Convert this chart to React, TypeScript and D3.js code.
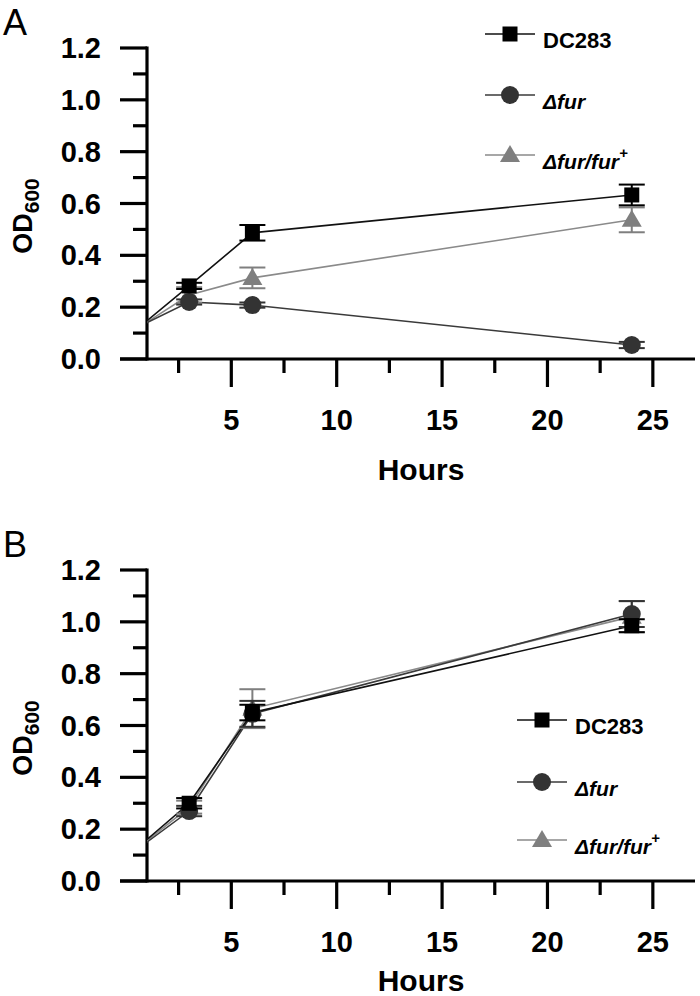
import React from "react";
import * as d3 from "d3";

const hours = [0, 3, 6, 24];
const xMajorTicks = [5, 10, 15, 20, 25];
const xMinorTicks = [2.5, 7.5, 12.5, 17.5, 22.5];
const yMajorTicks = [0, 0.2, 0.4, 0.6, 0.8, 1.0, 1.2];
const yMinorTicks = [0.1, 0.3, 0.5, 0.7, 0.9, 1.1];

const seriesNames = ["DC283", "Δfur", "Δfur/fur+"];

const aDC283 = [0.08, 0.282, 0.487, 0.633];
const aDC283Err = [0, 0.012, 0.03, 0.04];
const aFur = [0.1, 0.22, 0.208, 0.054];
const aFurErr = [0, 0.01, 0.01, 0.012];
const aFurComp = [0.09, 0.247, 0.313, 0.537];
const aFurCompErr = [0, 0.03, 0.04, 0.048];

const bDC283 = [0.09, 0.3, 0.65, 0.985];
const bDC283Err = [0, 0.02, 0.03, 0.025];
const bFur = [0.09, 0.27, 0.645, 1.03];
const bFurErr = [0, 0.02, 0.05, 0.05];
const bFurComp = [0.09, 0.285, 0.665, 1.02];
const bFurCompErr = [0, 0.025, 0.075, 0.06];

const FONT = "'Liberation Sans', Arial, sans-serif";
const colors = ["#000000", "#333333", "#7f7f7f"];
const lineColors = ["#111111", "#3a3a3a", "#8a8a8a"];

type Series = { vals: number[]; errs: number[] };

function Marker({ kind, cx, cy, color }: { kind: number; cx: number; cy: number; color: string }) {
  if (kind === 0) return <rect x={cx - 7.5} y={cy - 7.5} width={15} height={15} fill={color} />;
  if (kind === 1) return <circle cx={cx} cy={cy} r={9} fill={color} />;
  return <path d={`M${cx},${cy - 10}L${cx + 10},${cy + 7}L${cx - 10},${cy + 7}Z`} fill={color} />;
}

function Panel({
  label,
  top,
  series,
  legendX,
  legendYs,
  hoursBaseline,
  id,
}: {
  label: string;
  top: number;
  series: Series[];
  legendX: number;
  legendYs: number[];
  hoursBaseline: number;
  id: string;
}) {
  const x = d3.scaleLinear().domain([1, 27]).range([147, 695]);
  const y = d3.scaleLinear().domain([0, 1.2]).range([top + 311, top]);
  const y0 = y(0);
  const line = d3
    .line<number>()
    .x((_, i) => x(hours[i]))
    .y((d) => y(d));
  const order = [2, 1, 0];
  return (
    <g>
      <defs>
        <clipPath id={id}>
          <rect x={x(1)} y={top - 20} width={700 - x(1)} height={y0 - top + 20} />
        </clipPath>
      </defs>
      <text x={3} y={top - 13} fontFamily={FONT} fontSize={36}>
        {label}
      </text>
      {/* axes */}
      <line x1={x(1)} x2={x(1)} y1={y(1.2) - 1.5} y2={y0 + 1.5} stroke="#000" strokeWidth={3.2} />
      <line x1={120} x2={695} y1={y0} y2={y0} stroke="#000" strokeWidth={3.2} />
      {yMajorTicks.map((t) => (
        <g key={"ym" + t}>
          <line x1={120} x2={x(1)} y1={y(t)} y2={y(t)} stroke="#000" strokeWidth={3.2} />
          <text
            x={101}
            y={y(t) + 10}
            textAnchor="end"
            fontFamily={FONT}
            fontWeight="bold"
            fontSize={29}
          >
            {t.toFixed(1)}
          </text>
        </g>
      ))}
      {yMinorTicks.map((t) => (
        <line key={"yn" + t} x1={133} x2={x(1)} y1={y(t)} y2={y(t)} stroke="#000" strokeWidth={3.2} />
      ))}
      {xMajorTicks.map((t) => (
        <g key={"xm" + t}>
          <line x1={x(t)} x2={x(t)} y1={y0} y2={y0 + 28} stroke="#000" strokeWidth={3.2} />
          <text
            x={x(t)}
            y={y0 + 71}
            textAnchor="middle"
            fontFamily={FONT}
            fontWeight="bold"
            fontSize={29}
          >
            {t}
          </text>
        </g>
      ))}
      {xMinorTicks.map((t) => (
        <line key={"xn" + t} x1={x(t)} x2={x(t)} y1={y0} y2={y0 + 14} stroke="#000" strokeWidth={3.2} />
      ))}
      <text
        x={421}
        y={hoursBaseline}
        textAnchor="middle"
        fontFamily={FONT}
        fontWeight="bold"
        fontSize={30}
      >
        Hours
      </text>
      <text
        transform={`translate(32,${top + 168}) rotate(-90)`}
        textAnchor="middle"
        fontFamily={FONT}
        fontWeight="bold"
        fontSize={27}
      >
        OD
        <tspan fontSize={21} dy={7}>
          600
        </tspan>
      </text>
      {/* lines */}
      <g clipPath={`url(#${id})`}>
        {order.map((k) => (
          <path
            key={"l" + k}
            d={line(series[k].vals) || ""}
            fill="none"
            stroke={lineColors[k]}
            strokeWidth={1.6}
          />
        ))}
        {order.map((k) =>
          series[k].vals.map((v, i) => {
            const e = series[k].errs[i];
            const cx = x(hours[i]);
            return (
              <g key={"e" + k + "-" + i}>
                {e > 0 && (
                  <g stroke={colors[k]} strokeWidth={2}>
                    <line x1={cx} x2={cx} y1={y(v + e)} y2={y(v - e)} />
                    <line x1={cx - 13} x2={cx + 13} y1={y(v + e)} y2={y(v + e)} />
                    <line x1={cx - 13} x2={cx + 13} y1={y(v - e)} y2={y(v - e)} />
                  </g>
                )}
                <Marker kind={k} cx={cx} cy={y(v)} color={colors[k]} />
              </g>
            );
          })
        )}
      </g>
      {/* legend */}
      {seriesNames.map((name, k) => {
        const ly = legendYs[k];
        return (
          <g key={"lg" + k}>
            <line x1={legendX - 25} x2={legendX + 25} y1={ly} y2={ly} stroke={lineColors[k]} strokeWidth={1.6} />
            <Marker kind={k} cx={legendX} cy={ly} color={colors[k]} />
            <text
              x={legendX + 33}
              y={ly + 14}
              fontFamily={FONT}
              fontWeight="bold"
              fontSize={k === 0 ? 22 : 21}
              fontStyle={k === 0 ? "normal" : "italic"}
            >
              {k === 2 ? (
                <>
                  Δfur/fur
                  <tspan fontSize={15} dy={-11}>
                    +
                  </tspan>
                </>
              ) : (
                name
              )}
            </text>
          </g>
        );
      })}
    </g>
  );
}

export default function App() {
  const seriesA: Series[] = [
    { vals: aDC283, errs: aDC283Err },
    { vals: aFur, errs: aFurErr },
    { vals: aFurComp, errs: aFurCompErr },
  ];
  const seriesB: Series[] = [
    { vals: bDC283, errs: bDC283Err },
    { vals: bFur, errs: bFurErr },
    { vals: bFurComp, errs: bFurCompErr },
  ];
  return (
    <svg
      width={700}
      height={996}
      style={{ position: "absolute", left: 0, top: 0, background: "#fff" }}
    >
      <rect width={700} height={996} fill="#fff" />
      <Panel
        label="A"
        top={48}
        series={seriesA}
        legendX={510}
        legendYs={[34, 95, 155]}
        hoursBaseline={480}
        id="clipA"
      />
      <Panel
        label="B"
        top={570}
        series={seriesB}
        legendX={542}
        legendYs={[720, 782, 840]}
        hoursBaseline={991}
        id="clipB"
      />
    </svg>
  );
}
